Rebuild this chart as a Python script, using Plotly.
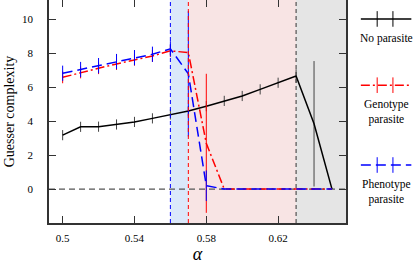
import plotly.graph_objects as go

alpha = [0.50, 0.51, 0.52, 0.53, 0.54, 0.55, 0.56, 0.57, 0.58, 0.59, 0.60, 0.61, 0.62, 0.63, 0.64, 0.65]
no_parasite = [3.18, 3.67, 3.68, 3.81, 3.96, 4.17, 4.40, 4.60, 4.89, 5.20, 5.49, 5.88, 6.27, 6.67, 3.85, 0.0]
no_parasite_err = [0.3, 0.3, 0.3, 0.3, 0.3, 0.3, 0.3, 0.3, 0.3, 0.3, 0.3, 0.3, 0.3, 0.4, 3.7, 0.0]
genotype = [6.59, 6.88, 7.13, 7.38, 7.63, 7.85, 8.15, 8.05, 2.70, 0.0, 0.0, 0.0, 0.0, 0.0, 0.0, 0.0]
genotype_err = [0.35, 0.35, 0.35, 0.35, 0.35, 0.35, 0.35, 0.0, 4.1, 0.0, 0.0, 0.0, 0.0, 0.0, 0.0, 0.0]
phenotype = [6.83, 7.05, 7.28, 7.52, 7.75, 7.95, 8.27, 6.80, 0.20, 0.0, 0.0, 0.0, 0.0, 0.0, 0.0, 0.0]
phenotype_err = [0.45, 0.45, 0.45, 0.45, 0.45, 0.45, 0.45, 3.7, 0.9, 0.0, 0.0, 0.0, 0.0, 0.0, 0.0, 0.0]

regions = [(0.56, 0.57, "rgb(219,232,250)", "blue"),
           (0.57, 0.63, "rgb(248,228,228)", "red"),
           (0.63, 0.66, "rgb(229,229,229)", "#333")]

FONT = "Liberation Serif"

fig = go.Figure()

fig.add_trace(go.Scatter(x=alpha, y=no_parasite, mode="lines",
                         line=dict(color="black", width=1.5),
                         error_y=dict(type="data", array=no_parasite_err, color="#444", thickness=1, width=0),
                         showlegend=False))
fig.add_trace(go.Scatter(x=alpha, y=genotype, mode="lines",
                         line=dict(color="red", width=1.5, dash="9px,3px,2px,3px"),
                         error_y=dict(type="data", array=genotype_err, color="red", thickness=1, width=0),
                         showlegend=False))
fig.add_trace(go.Scatter(x=alpha, y=phenotype, mode="lines",
                         line=dict(color="blue", width=1.5, dash="10px,5px"),
                         error_y=dict(type="data", array=phenotype_err, color="blue", thickness=1, width=0),
                         showlegend=False))

shapes = []
for x0, x1, fill, lc in regions:
    shapes.append(dict(type="rect", xref="x", yref="paper", x0=x0, x1=x1, y0=0, y1=1,
                       fillcolor=fill, line=dict(width=0), layer="below"))
    shapes.append(dict(type="line", xref="x", yref="paper", x0=x0, x1=x0, y0=0, y1=1,
                       line=dict(color=lc, width=1, dash="4px,3px"), layer="above"))
shapes.append(dict(type="line", xref="paper", yref="y", x0=0, x1=1, y0=0, y1=0,
                   line=dict(color="#555", width=1.2, dash="6px,4px"), layer="below"))

# legend samples (paper coordinates, outside plot on the right)
legend_items = [("black", "solid", 0.915, "No parasite"),
                ("red", "9px,3px,2px,3px", 0.618, "Genotype<br>parasite"),
                ("blue", "10px,5px", 0.26, "Phenotype<br>parasite")]
annotations = []
for color, dash, ly, label in legend_items:
    shapes.append(dict(type="line", xref="paper", yref="paper", x0=1.05, x1=1.22, y0=ly, y1=ly,
                       line=dict(color=color, width=1.5, dash=dash)))
    for tx in (1.105, 1.158):
        shapes.append(dict(type="line", xref="paper", yref="paper", x0=tx, x1=tx, y0=ly - 0.035, y1=ly + 0.035,
                           line=dict(color=color, width=1)))
    annotations.append(dict(xref="paper", yref="paper", x=1.137, y=ly - 0.05, text=label,
                            showarrow=False, xanchor="center", yanchor="top",
                            font=dict(family=FONT, size=11.5, color="black")))

fig.update_layout(
    width=415, height=266,
    margin=dict(l=49, r=69, t=0, b=43),
    plot_bgcolor="white", paper_bgcolor="white",
    shapes=shapes, annotations=annotations,
    font=dict(family=FONT, size=11, color="black"),
    xaxis=dict(range=[0.4924, 0.6578], tickvals=[0.5, 0.54, 0.58, 0.62],
               ticktext=["0.5", "0.54", "0.58", "0.62"],
               ticks="inside", ticklen=7, tickcolor="#333", mirror="ticks",
               showline=True, linecolor="#333", linewidth=1.5, showgrid=False, zeroline=False,
               automargin=False, ticklabelstandoff=4,
               title=dict(text="<i>α</i>", font=dict(family=FONT, size=18), standoff=2)),
    yaxis=dict(range=[-2.0, 11.15], tickvals=[0, 2, 4, 6, 8, 10],
               ticks="inside", ticklen=7, tickcolor="#333", mirror="ticks",
               showline=True, linecolor="#333", linewidth=1.5, showgrid=False, zeroline=False,
               automargin=False, ticklabelstandoff=12,
               title=dict(text="Guesser complexity", font=dict(family=FONT, size=14), standoff=4)),
)

fig.write_html("out.html", config={"displayModeBar": False},
               post_script="document.body.style.margin='0';document.body.style.overflow='hidden';")
